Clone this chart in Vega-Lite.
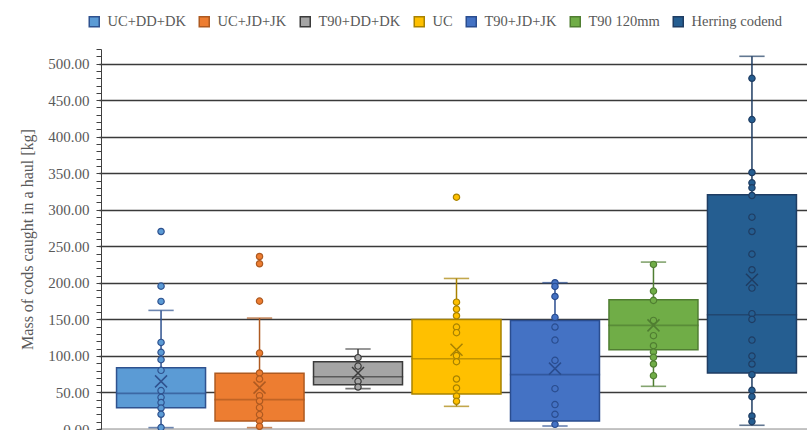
{
  "$schema": "https://vega.github.io/schema/vega-lite/v6.json",
  "autosize": {"type": "none"},
  "padding": {"left": 99, "top": 49, "right": 0, "bottom": 1},
  "width": 715,
  "height": 380,
  "background": "white",
  "config": {
    "view": {"stroke": null},
    "font": "Liberation Serif"
  },
  "resolve": {"axis": {"y": "independent"}},
  "datasets": {
    "points": [
      {"group": "UC+DD+DK", "value": 270.3}, {"group": "UC+DD+DK", "value": 195.5}, {"group": "UC+DD+DK", "value": 174.6},
      {"group": "UC+DD+DK", "value": 118.5}, {"group": "UC+DD+DK", "value": 104.9}, {"group": "UC+DD+DK", "value": 94.9},
      {"group": "UC+DD+DK", "value": 80.3}, {"group": "UC+DD+DK", "value": 52.5}, {"group": "UC+DD+DK", "value": 43.3},
      {"group": "UC+DD+DK", "value": 36.1}, {"group": "UC+DD+DK", "value": 28.7}, {"group": "UC+DD+DK", "value": 20.1},
      {"group": "UC+DD+DK", "value": 1.9},
      {"group": "UC+JD+JK", "value": 236.1}, {"group": "UC+JD+JK", "value": 226.1}, {"group": "UC+JD+JK", "value": 175.0},
      {"group": "UC+JD+JK", "value": 103.9}, {"group": "UC+JD+JK", "value": 76.6}, {"group": "UC+JD+JK", "value": 68.4},
      {"group": "UC+JD+JK", "value": 45.6}, {"group": "UC+JD+JK", "value": 38.3}, {"group": "UC+JD+JK", "value": 29.2},
      {"group": "UC+JD+JK", "value": 19.7}, {"group": "UC+JD+JK", "value": 11.0}, {"group": "UC+JD+JK", "value": 3.7},
      {"group": "T90+DD+DK", "value": 97.6}, {"group": "T90+DD+DK", "value": 86.1}, {"group": "T90+DD+DK", "value": 65.2},
      {"group": "T90+DD+DK", "value": 57.4},
      {"group": "UC", "value": 317.2}, {"group": "UC", "value": 173.6}, {"group": "UC", "value": 164.1},
      {"group": "UC", "value": 155.0}, {"group": "UC", "value": 139.5}, {"group": "UC", "value": 131.8},
      {"group": "UC", "value": 100.4}, {"group": "UC", "value": 92.1}, {"group": "UC", "value": 68.4},
      {"group": "UC", "value": 56.1}, {"group": "UC", "value": 45.1}, {"group": "UC", "value": 37.9},
      {"group": "T90+JD+JK", "value": 200.2}, {"group": "T90+JD+JK", "value": 195.1}, {"group": "T90+JD+JK", "value": 181.4},
      {"group": "T90+JD+JK", "value": 152.7}, {"group": "T90+JD+JK", "value": 139.5}, {"group": "T90+JD+JK", "value": 121.7},
      {"group": "T90+JD+JK", "value": 93.9}, {"group": "T90+JD+JK", "value": 55.2}, {"group": "T90+JD+JK", "value": 33.4},
      {"group": "T90+JD+JK", "value": 20.1}, {"group": "T90+JD+JK", "value": 6.4},
      {"group": "T90 120mm", "value": 225.2}, {"group": "T90 120mm", "value": 188.7}, {"group": "T90 120mm", "value": 176.0},
      {"group": "T90 120mm", "value": 148.6}, {"group": "T90 120mm", "value": 127.7}, {"group": "T90 120mm", "value": 114.0},
      {"group": "T90 120mm", "value": 105.3}, {"group": "T90 120mm", "value": 98.0}, {"group": "T90 120mm", "value": 88.9},
      {"group": "T90 120mm", "value": 73.0},
      {"group": "Herring codend", "value": 479.9}, {"group": "Herring codend", "value": 423.4}, {"group": "Herring codend", "value": 351.0},
      {"group": "Herring codend", "value": 336.9}, {"group": "Herring codend", "value": 330.0}, {"group": "Herring codend", "value": 319.5},
      {"group": "Herring codend", "value": 289.9}, {"group": "Herring codend", "value": 270.3}, {"group": "Herring codend", "value": 239.3},
      {"group": "Herring codend", "value": 217.9}, {"group": "Herring codend", "value": 192.8}, {"group": "Herring codend", "value": 157.8},
      {"group": "Herring codend", "value": 150.0}, {"group": "Herring codend", "value": 121.7}, {"group": "Herring codend", "value": 99.8},
      {"group": "Herring codend", "value": 88.9}, {"group": "Herring codend", "value": 74.4}, {"group": "Herring codend", "value": 52.9},
      {"group": "Herring codend", "value": 44.3}, {"group": "Herring codend", "value": 17.8}, {"group": "Herring codend", "value": 10.1}
    ],
    "stats": [
      {"group": "UC+DD+DK", "lo": 1.9, "q1": 29.2, "median": 48.8, "q3": 83.9, "hi": 162.3, "mean": 65.2},
      {"group": "UC+JD+JK", "lo": 1.9, "q1": 11.0, "median": 40.2, "q3": 76.2, "hi": 151.8, "mean": 56.6},
      {"group": "T90+DD+DK", "lo": 55.2, "q1": 60.7, "median": 71.6, "q3": 92.1, "hi": 109.4, "mean": 76.6},
      {"group": "UC", "lo": 31.0, "q1": 47.9, "median": 96.2, "q3": 150.0, "hi": 206.0, "mean": 108.5},
      {"group": "T90+JD+JK", "lo": 4.1, "q1": 11.0, "median": 74.4, "q3": 148.6, "hi": 200.2, "mean": 82.6},
      {"group": "T90 120mm", "lo": 58.4, "q1": 108.6, "median": 141.8, "q3": 176.9, "hi": 228.4, "mean": 141.8},
      {"group": "Herring codend", "lo": 5.1, "q1": 76.6, "median": 156.4, "q3": 320.5, "hi": 510.0, "mean": 204.3}
    ]
  },
  "encoding": {
    "x": {
      "field": "group", "type": "nominal", "sort": null,
      "scale": {"domain": ["UC+DD+DK", "UC+JD+JK", "T90+DD+DK", "UC", "T90+JD+JK", "T90 120mm", "Herring codend"], "paddingInner": 0, "paddingOuter": 0.13},
      "axis": {"title": null, "labels": false, "ticks": false, "grid": false, "domain": true, "domainColor": "#c0c0c0", "domainWidth": 2}
    }
  },
  "layer": [
    {
      "data": {"name": "stats"},
      "mark": {"type": "rule", "strokeWidth": 1.5},
      "encoding": {
        "y": {"field": "lo", "type": "quantitative", "scale": {"domain": [0, 520], "nice": false},
          "axis": {
            "orient": "left",
            "title": "Mass of cods caught in a haul [kg]",
            "values": [0,50,100,150,200,250,300,350,400,450,500],
            "format": ".2f",
            "labelOverlap": false, "labelFlush": false,
            "labelFontSize": 15, "labelColor": "#595959", "labelPadding": 10,
            "ticks": false, "domain": false,
            "grid": true, "gridColor": "#3a3a3a", "gridWidth": 1.3,
            "titleFontSize": 16, "titleFontWeight": "normal", "titleColor": "#595959", "titlePadding": 12
          }},
        "y2": {"field": "hi"},
        "stroke": {"field": "group", "type": "nominal",
          "scale": {"domain": ["UC+DD+DK", "UC+JD+JK", "T90+DD+DK", "UC", "T90+JD+JK", "T90 120mm", "Herring codend"],
            "range": ["#2F528F", "#AE5A21", "#3B3B3B", "#A88200", "#2A4D8F", "#507E32", "#1F3D63"]}}
      }
    },
    {
      "data": {"name": "stats"},
      "mark": {"type": "bar", "size": 89, "strokeWidth": 1.5},
      "encoding": {
        "y": {"field": "q1", "type": "quantitative",
          "axis": {
            "orient": "left", "title": null, "labels": false, "grid": false,
            "values": [0,10,20,30,40,50,60,70,80,90,100,110,120,130,140,150,160,170,180,190,200,210,220,230,240,250,260,270,280,290,300,310,320,330,340,350,360,370,380,390,400,410,420,430,440,450,460,470,480,490,500,510,520],
            "offset": -2, "tickSize": 5, "tickColor": "#404040", "tickWidth": 1,
            "domain": true, "domainColor": "#404040", "domainWidth": 1
          }},
        "y2": {"field": "q3"},
        "fill": {"field": "group", "type": "nominal",
          "scale": {"domain": ["UC+DD+DK", "UC+JD+JK", "T90+DD+DK", "UC", "T90+JD+JK", "T90 120mm", "Herring codend"],
            "range": ["#5B9BD5", "#ED7D31", "#A5A5A5", "#FFC000", "#4472C4", "#70AD47", "#255E91"]},
          "legend": {
            "title": null, "orient": "none", "direction": "horizontal", "columns": 7,
            "legendX": -12, "legendY": -35, "padding": 0,
            "symbolType": "square", "symbolSize": 100, "symbolStrokeWidth": 1.5,
            "labelFontSize": 14.5, "labelColor": "#595959", "labelOffset": 6, "columnPadding": 10,
            "labelLimit": 200
          }},
        "stroke": {"field": "group", "type": "nominal"}
      }
    },
    {
      "data": {"name": "stats"},
      "mark": {"type": "tick", "orient": "horizontal", "size": 24, "thickness": 0.3, "filled": false, "strokeWidth": 1.3},
      "encoding": {
        "y": {"field": "lo", "type": "quantitative", "axis": null},
        "stroke": {"field": "group", "type": "nominal"}
      }
    },
    {
      "data": {"name": "stats"},
      "mark": {"type": "tick", "orient": "horizontal", "size": 24, "thickness": 0.3, "filled": false, "strokeWidth": 1.3},
      "encoding": {
        "y": {"field": "hi", "type": "quantitative", "axis": null},
        "stroke": {"field": "group", "type": "nominal"}
      }
    },
    {
      "data": {"name": "stats"},
      "mark": {"type": "tick", "orient": "horizontal", "size": 89, "thickness": 0.3, "filled": false, "strokeWidth": 1.3},
      "encoding": {
        "y": {"field": "median", "type": "quantitative", "axis": null},
        "stroke": {"field": "group", "type": "nominal"}
      }
    },
    {
      "data": {"name": "points"},
      "mark": {"type": "point", "shape": "circle", "filled": true, "size": 40, "strokeWidth": 1.2, "opacity": 1},
      "encoding": {
        "y": {"field": "value", "type": "quantitative", "axis": null},
        "fill": {"field": "group", "type": "nominal"},
        "stroke": {"field": "group", "type": "nominal"}
      }
    },
    {
      "data": {"name": "stats"},
      "mark": {"type": "point", "shape": "M-1,-1L1,1M-1,1L1,-1", "filled": false, "size": 144, "strokeWidth": 1.5, "opacity": 1},
      "encoding": {
        "y": {"field": "mean", "type": "quantitative", "axis": null},
        "stroke": {"field": "group", "type": "nominal"}
      }
    }
  ]
}
